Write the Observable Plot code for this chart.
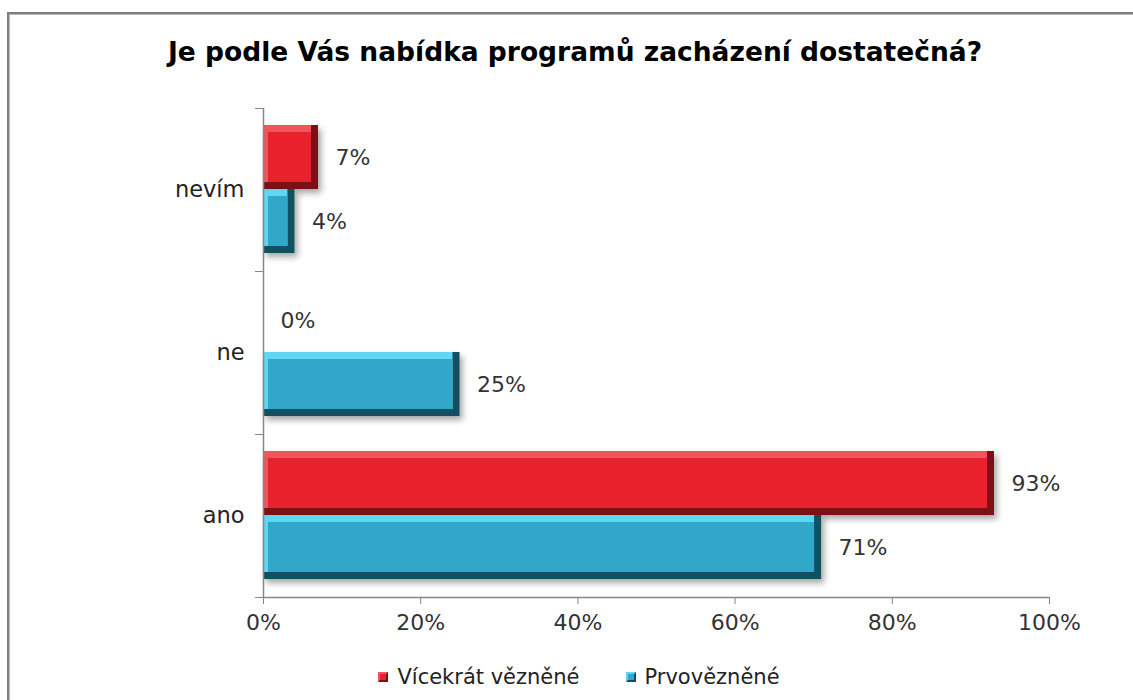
<!DOCTYPE html>
<html>
<head>
<meta charset="utf-8">
<script src="https://cdn.jsdelivr.net/npm/d3@7"></script>
<script src="https://cdn.jsdelivr.net/npm/@observablehq/plot@0.6"></script>
<style>
  html, body { margin: 0; padding: 0; background: #fff; overflow: hidden; }
  body { width: 1133px; height: 700px; position: relative; font-family: "DejaVu Sans", Verdana, sans-serif; }
  #frame { position: absolute; left: 7px; top: 12px; width: 1150px; height: 720px; border: 2px solid #7f7f7f; box-shadow: inset 1px 1px 0 #b8b8b8; box-sizing: border-box; }
  #title { position: absolute; left: 0; top: 36px; width: 1150px; text-align: center; font-weight: bold; font-size: 26.5px; line-height: 32px; color: #000; }
  #chart { position: absolute; left: 0; top: 90px; }
  #legend { position: absolute; left: 0; top: 665px; width: 1158px; display: flex; justify-content: center; gap: 46px; font-size: 21px; color: #222; }
  .item { display: flex; align-items: center; gap: 9px; }
  .sw { width: 10px; height: 10px; box-sizing: border-box; }
</style>
</head>
<body>
<div id="frame"></div>
<div id="title">Je podle Vás nabídka programů zacházení dostatečná?</div>
<div id="chart"></div>
<div id="legend"></div>
<script>
// ---- data ----
const categories = ["nevím", "ne", "ano"];
const series = ["Vícekrát vězněné", "Prvovězněné"];
const vicekratValues = [7, 0, 93];
const prvoValues = [4, 25, 71];
const xTicks = [0, 20, 40, 60, 80, 100];

// ---- styles ----
const palette = {
  "Vícekrát vězněné": {main: "#e8212d", light: "#f2545d", dark: "#7e0f16"},
  "Prvovězněné": {main: "#31a8ca", light: "#5fd6f2", dark: "#124f60"}
};

const rows = [];
categories.forEach((c, i) => {
  rows.push({category: c, series: series[0], value: vicekratValues[i]});
  rows.push({category: c, series: series[1], value: prvoValues[i]});
});

const W = 1133, H = 540, mt = 18, mb = 33, ml = 263, mr = 84;
const band = (H - mt - mb) / categories.length;
const barH = 64, topPad = 17;
const slot = {
  [series[0]]: {top: topPad, bottom: band - topPad - barH},
  [series[1]]: {top: topPad + barH, bottom: band - topPad - 2 * barH}
};
const bev = 7;
const axisGray = "#868686";
const textCol = "#333";

const marks = [];
for (const s of series) {
  const d = rows.filter(r => r.series === s && r.value > 0);
  const p = palette[s], sl = slot[s];
  marks.push(Plot.barX(d, {x: "value", y: "category", fill: p.dark, insetTop: sl.top, insetBottom: sl.bottom, ariaDescription: "base"}));
  marks.push(Plot.barX(d, {x: "value", y: "category", fill: p.light, insetTop: sl.top, insetBottom: sl.bottom + bev, insetRight: bev}));
  marks.push(Plot.barX(d, {x: "value", y: "category", fill: p.main, insetTop: sl.top + bev, insetBottom: sl.bottom + bev, insetRight: bev, insetLeft: 5}));
  const center = sl.top + barH / 2 - band / 2;
  marks.push(Plot.text(rows.filter(r => r.series === s), {
    x: "value", y: "category", text: r => r.value + "%", dy: center, dx: 17,
    textAnchor: "start", fill: textCol, fontSize: 22
  }));
}

const chart = Plot.plot({
  width: W, height: H,
  marginTop: mt, marginBottom: mb, marginLeft: ml, marginRight: mr,
  style: {fontFamily: "DejaVu Sans, Verdana, sans-serif", fontSize: "22px", background: "transparent", overflow: "visible"},
  x: {domain: [0, 100], axis: null},
  y: {type: "band", domain: categories, padding: 0, round: false, axis: null},
  marks: [
    ...marks,
    Plot.ruleX([0], {stroke: axisGray, strokeWidth: 1.5}),
    Plot.ruleY([categories[categories.length - 1]], {dy: band / 2, stroke: axisGray, strokeWidth: 1.5}),
    Plot.axisX({ticks: xTicks, tickFormat: d => d + "%", tickSize: 7, tickPadding: 10, stroke: axisGray, fill: textCol, fontSize: 22, label: null}),
    Plot.axisY({ticks: categories, tickSize: 8, tickFormat: () => "", dy: -band / 2, stroke: axisGray, label: null}),
    Plot.axisY({ticks: [categories[categories.length - 1]], tickSize: 8, tickFormat: () => "", dy: band / 2, stroke: axisGray, label: null}),
    Plot.axisY({ticks: categories, tickSize: 0, tickPadding: 19, fill: "#222", fontSize: 22.5, label: null})
  ]
});
d3.select(chart).selectAll('g[aria-description="base"]').style("filter", "drop-shadow(3px 4px 3px rgba(0,0,0,0.35))");
document.getElementById("chart").appendChild(chart);

const legend = d3.select("#legend");
series.forEach(s => {
  const it = legend.append("div").attr("class", "item");
  it.append("div").attr("class", "sw")
    .style("background", palette[s].main)
    .style("border", "2px solid " + palette[s].dark)
    .style("border-top-color", palette[s].light)
    .style("border-left-color", palette[s].light);
  it.append("span").text(s);
});
</script>
</body>
</html>
